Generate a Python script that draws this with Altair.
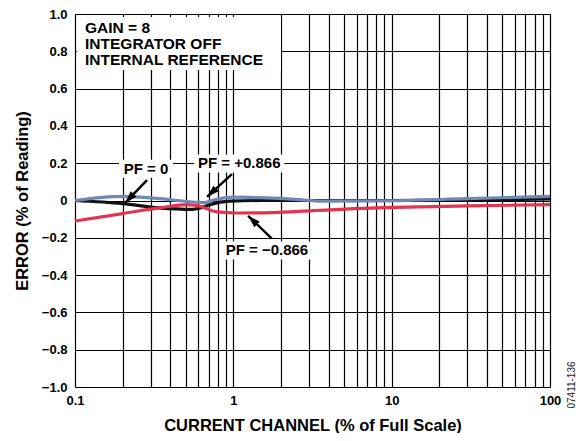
import altair as alt
import pandas as pd

FONT = "Liberation Sans"

# ---- data ----
pf0_x = [0.1, 0.2, 0.34, 0.55, 0.62, 0.71, 0.95, 1.5, 3, 10, 30, 100]
pf0_y = [0.0, -0.017, -0.04, -0.048, -0.04, -0.022, -0.003, 0.0, 0.0, 0.0, 0.003, 0.008]

pfp_x = [0.1, 0.2, 0.34, 0.55, 0.65, 0.75, 1.0, 1.45, 2.6, 3.5, 8.8, 30, 100]
pfp_y = [0.0, 0.022, 0.01, -0.008, -0.012, 0.003, 0.018, 0.015, 0.005, -0.003, -0.002, 0.01, 0.022]

pfn_x = [0.1, 0.2, 0.34, 0.51, 0.61, 0.79, 1.05, 1.78, 3.2, 8.8, 30, 100]
pfn_y = [-0.11, -0.07, -0.04, -0.022, -0.03, -0.061, -0.067, -0.065, -0.054, -0.038, -0.029, -0.022]

series_names = ["PF = 0", "PF = −0.866", "PF = +0.866"]
series_colors = ["#111111", "#e5324f", "#6f88b8"]

x_grid = [0.1, 0.2, 0.3, 0.4, 0.5, 0.6, 0.7, 0.8, 0.9,
          1, 2, 3, 4, 5, 6, 7, 8, 9,
          10, 20, 30, 40, 50, 60, 70, 80, 90, 100]
y_grid = [-1.0, -0.8, -0.6, -0.4, -0.2, 0.0, 0.2, 0.4, 0.6, 0.8, 1.0]

# annotation labels
lab_text = ["PF = 0", "PF = +0.866", "PF = −0.866"]
lab_x = [0.2805, 1.09, 1.63]
lab_y = [0.170, 0.199, -0.268]

# arrows: tail -> tip
arr_x1 = [0.285, 0.98, 1.75]
arr_y1 = [0.109, 0.141, -0.204]
arr_x2 = [0.207, 0.682, 1.24]
arr_y2 = [-0.013, 0.019, -0.082]
arr_angle = [224, 227, 314]

info_lines = ["GAIN = 8", "INTEGRATOR OFF", "INTERNAL REFERENCE"]
info_x = [0.1157]
info_y = [0.964]
info_box_x = [0.454]
info_box_y = [0.842]

rows = []
for name, xs, ys in [("PF = 0", pf0_x, pf0_y), ("PF = −0.866", pfn_x, pfn_y), ("PF = +0.866", pfp_x, pfp_y)]:
    for a, b in zip(xs, ys):
        rows.append({"x": a, "y": b, "series": name})
curves = pd.DataFrame(rows)

labels = pd.DataFrame({"text": lab_text, "x": lab_x, "y": lab_y})
arrows = pd.DataFrame({"x": arr_x1, "y": arr_y1, "x2": arr_x2, "y2": arr_y2, "angle": arr_angle})
info = pd.DataFrame({"x": info_x, "y": info_y, "text": ["\n".join(info_lines)]})
infobox = pd.DataFrame({"x": info_box_x, "y": info_box_y})

xscale = alt.Scale(type="log", domain=[0.1, 100], nice=False)
yscale = alt.Scale(domain=[-1, 1], nice=False)

xaxis = alt.Axis(
    values=x_grid, grid=True, gridColor="black", gridWidth=1.2, gridOpacity=1,
    ticks=False, domain=False, labelFlush=False,
    labelExpr="indexof([0.1, 1, 10, 100], datum.value) >= 0 ? datum.label : ''",
    format="~g", labelFont=FONT, labelFontWeight="bold", labelFontSize=13,
    labelColor="black", labelPadding=7, labelOverlap=False, labelBound=False,
    title="CURRENT CHANNEL (% of Full Scale)", titleFont=FONT, titleFontWeight="bold",
    titleFontSize=16.5, titleColor="black", titlePadding=10,
)
yaxis = alt.Axis(
    values=y_grid, grid=True, gridColor="black", gridWidth=1.2, gridOpacity=1,
    ticks=False, domain=False, labelFlush=False, labelOverlap=False, labelBound=False,
    labelExpr="datum.value == 0 ? '0' : replace(format(datum.value, '.1f'), '-', '−')",
    labelFont=FONT, labelFontWeight="bold", labelFontSize=13, labelColor="black",
    labelPadding=8,
    title="ERROR (% of Reading)", titleFont=FONT, titleFontWeight="bold",
    titleFontSize=16.5, titleColor="black", titlePadding=11,
)

X = alt.X("x:Q", scale=xscale, axis=xaxis)
Y = alt.Y("y:Q", scale=yscale, axis=yaxis)
X2 = alt.X("x2:Q", scale=xscale, axis=xaxis)
Y2 = alt.Y("y2:Q", scale=yscale, axis=yaxis)

# white background boxes
box_info = alt.Chart(infobox).mark_point(
    shape="M-1,-0.26H1V0.26H-1Z", filled=True, fill="white", opacity=1, strokeWidth=0, size=204 * 204
).encode(x=X, y=Y)

def label_box(i, w, h=18):
    df = labels.iloc[[i]]
    return alt.Chart(df).mark_point(
        shape=f"M-1,-{h / w:.4f}H1V{h / w:.4f}H-1Z", filled=True, fill="white",
        opacity=1, strokeWidth=0, size=w * w
    ).encode(x=X, y=Y)

boxes = [label_box(0, 54), label_box(1, 90), label_box(2, 90)]

lines = alt.Chart(curves).mark_line(strokeWidth=3.2, interpolate="monotone").encode(
    x=X, y=Y,
    color=alt.Color("series:N", scale=alt.Scale(domain=series_names, range=series_colors), legend=None),
    order=alt.Order("x:Q"),
    detail="series:N",
)

arrow_lines = alt.Chart(arrows).mark_rule(color="black", strokeWidth=2.4).encode(
    x=X, y=Y, x2="x2:Q", y2="y2:Q",
)
arrow_heads = alt.Chart(arrows).mark_point(
    shape="M0,0L-0.6,1.9L0.6,1.9Z", filled=True, fill="black", opacity=1, strokeWidth=0, size=170
).encode(
    x=X2, y=Y2,
    angle=alt.Angle("angle:Q", scale=None),
)

label_text = alt.Chart(labels).mark_text(
    font=FONT, fontWeight="bold", fontSize=15, color="black", align="center", baseline="middle"
).encode(x=X, y=Y, text="text:N")

info_text = alt.Chart(info).mark_text(
    font=FONT, fontWeight="bold", fontSize=15.5, color="black", align="left", baseline="top",
    lineBreak="\n", lineHeight=16
).encode(x=X, y=Y, text="text:N")

watermark = alt.Chart(info).mark_text(
    font=FONT, fontSize=10, color="#222222", angle=270, align="center", baseline="middle",
    text="07411-136"
).encode(x=alt.value(497), y=alt.value(371))

chart = alt.layer(
    box_info, *boxes, lines, arrow_lines, arrow_heads, label_text, info_text, watermark
).properties(
    width=475, height=373,
    autosize=alt.AutoSizeParams(type="none"),
    padding={"left": 67, "top": 6, "right": 29, "bottom": 46},
).configure_view(stroke="black", strokeWidth=1.6).configure(background="white")

chart.save("out.html", embed_options={"renderer": "svg", "actions": False})
